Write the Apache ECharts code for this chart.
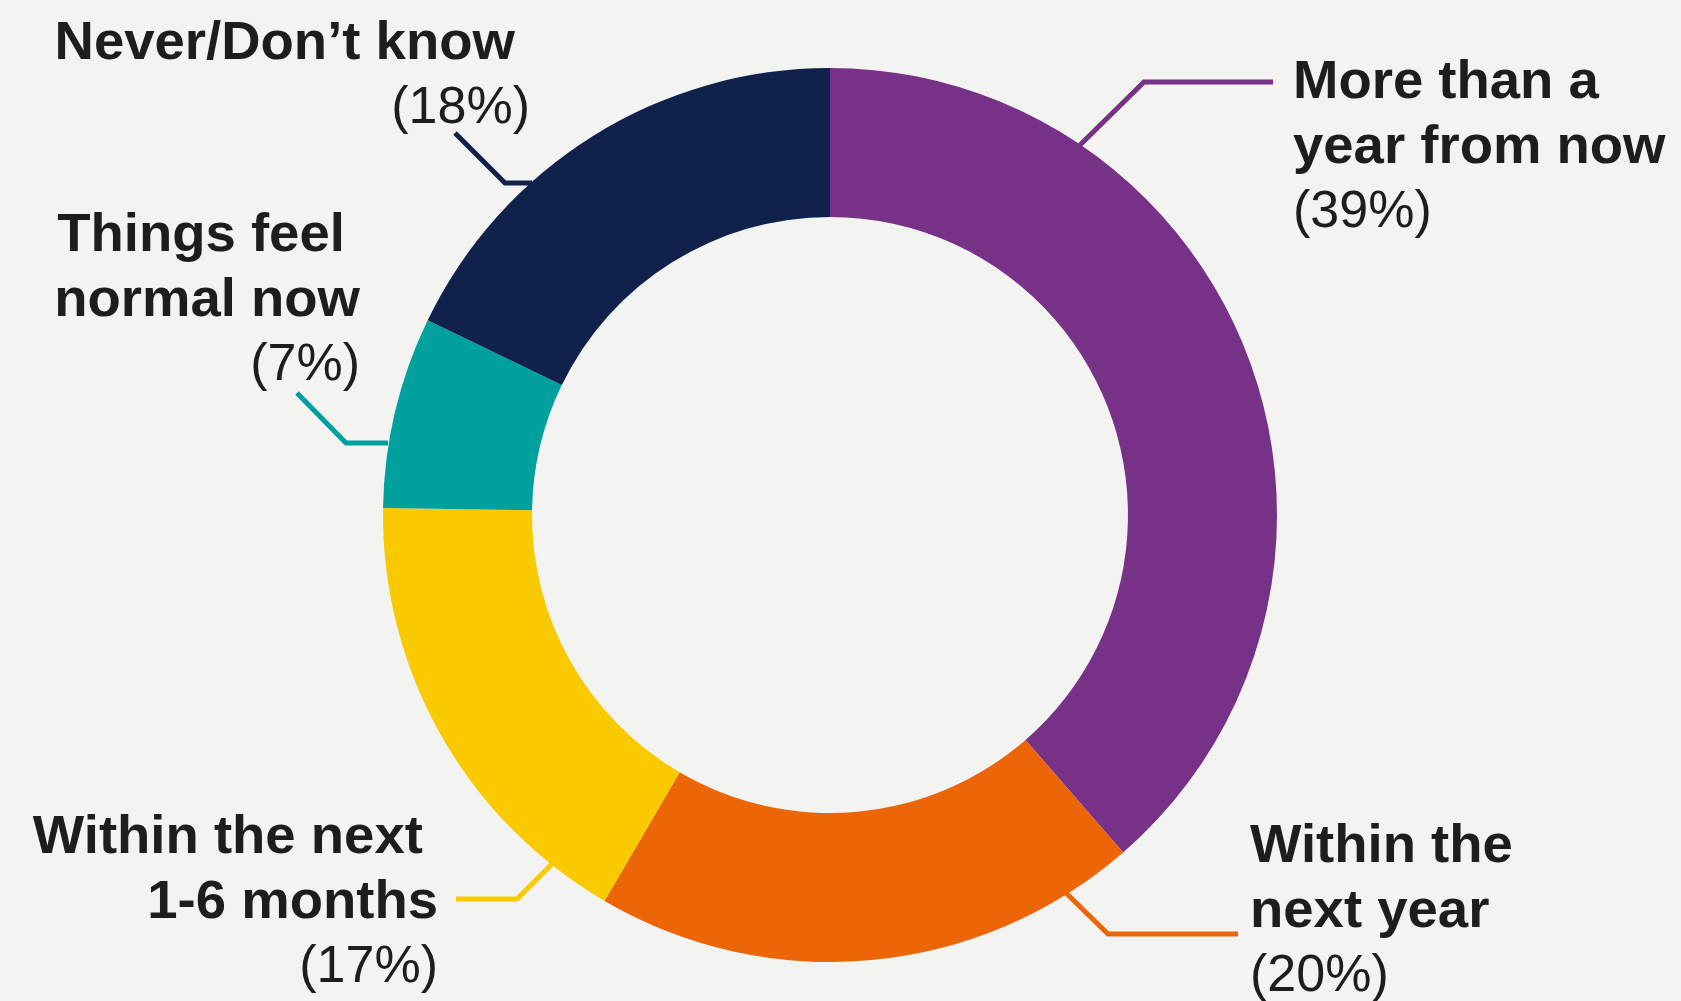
<!DOCTYPE html>
<html>
<head>
<meta charset="utf-8">
<script src="https://cdn.jsdelivr.net/npm/echarts@6/dist/echarts.min.js"></script>
<style>
  html, body { margin: 0; padding: 0; background: #F3F3F1; }
  #chart { width: 1681px; height: 1001px; }
</style>
</head>
<body>
<div id="chart"></div>
<script>
// ---- data ----
const categories = [
  'More than a\nyear from now',
  'Within the\nnext year',
  'Within the next \n1-6 months',
  'Things feel \nnormal now',
  'Never/Don\u2019t know '
];
const values = [39, 20, 17, 7, 18];
const colors = ['#773186', '#EC6608', '#F9CA00', '#00A09F', '#10224C'];

// ---- label layout (positions only) ----
const labelSide = ['L', 'L', 'R', 'R', 'R'];
const labelAnchor = [[1293, 50], [1250, 814], [438, 805], [360, 203], [530, 11]];
const labelLines = [
  [[1080, 145], [1144, 82], [1273, 82]],
  [[1065, 892], [1108, 934], [1238, 934]],
  [[553, 863], [517, 899], [456, 899]],
  [[388, 443], [346, 443], [297, 393]],
  [[532, 183], [505, 183], [455, 133]]
];

const FONT = '"Liberation Sans", Arial, Helvetica, sans-serif';
const TXT = '#1D1D1B';
const LINE_W = 5;

const chart = echarts.init(document.getElementById('chart'), null, { renderer: 'canvas' });
chart.setOption({
  backgroundColor: '#F3F3F1',
  animation: false,
  series: [{
    type: 'pie',
    silent: true,
    center: [830, 515],
    radius: [298, 447],
    startAngle: 90,
    clockwise: true,
    avoidLabelOverlap: false,
    itemStyle: { borderWidth: 0 },
    data: categories.map((c, i) => ({
      name: c,
      value: values[i],
      itemStyle: { color: colors[i] },
      labelLine: { show: true, lineStyle: { width: LINE_W, color: colors[i], cap: 'butt', join: 'miter' } }
    })),
    label: {
      show: true,
      position: 'outside',
      padding: 0,
      formatter: function (p) {
        const s = labelSide[p.dataIndex];
        const lines = p.name.split('\n').map(l => '{n' + s + '|' + l + '}');
        lines.push('{p' + s + '|(' + p.value + '%)}');
        return lines.join('\n');
      },
      rich: {
        nL: { fontFamily: FONT, fontWeight: 'bold', fontSize: 54.5, lineHeight: 65, color: TXT, align: 'left' },
        pL: { fontFamily: FONT, fontWeight: 'normal', fontSize: 52, lineHeight: 65, color: TXT, align: 'left' },
        nR: { fontFamily: FONT, fontWeight: 'bold', fontSize: 54.5, lineHeight: 65, color: TXT, align: 'right' },
        pR: { fontFamily: FONT, fontWeight: 'normal', fontSize: 52, lineHeight: 65, color: TXT, align: 'right' }
      }
    },
    labelLine: {
      show: true,
      length: 20,
      length2: 40,
      smooth: false,
      lineStyle: { width: LINE_W }
    },
    labelLayout: function (params) {
      const i = params.dataIndex;
      return {
        x: labelAnchor[i][0],
        y: labelAnchor[i][1],
        align: labelSide[i] === 'L' ? 'left' : 'right',
        verticalAlign: 'top',
        labelLinePoints: labelLines[i]
      };
    }
  }]
});
</script>
</body>
</html>
